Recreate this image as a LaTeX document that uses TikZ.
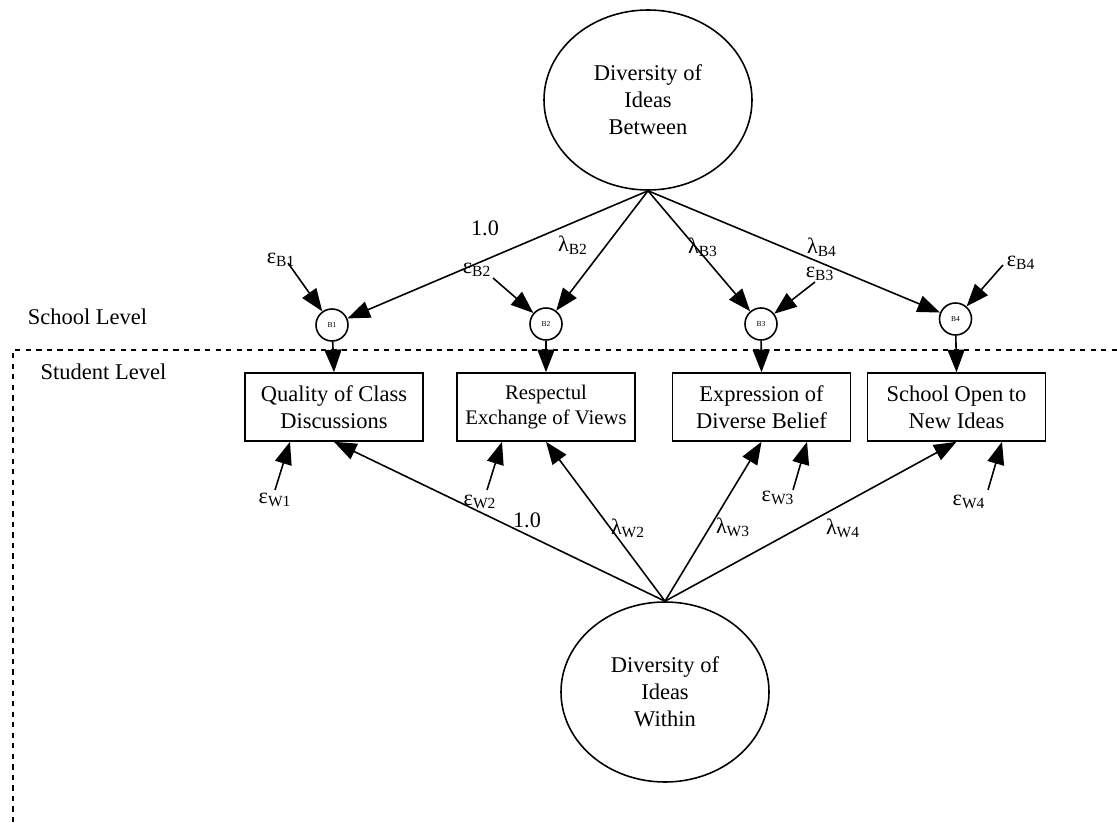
\documentclass[tikz,border=0pt]{standalone}
\usepackage{fontspec}
\setmainfont{Liberation Serif}
\usetikzlibrary{arrows.meta,positioning,shapes.geometric}

\begin{document}
\begin{tikzpicture}[
        latent/.style={ellipse, draw, minimum width=4.16cm, minimum height=3.6cm, align=center, font=\fontsize{12.8}{15.4}\selectfont},
        indicator/.style={rectangle, draw, minimum width=3.56cm, minimum height=1.36cm, inner xsep=1pt, align=center, font=\fontsize{12.8}{15.4}\selectfont},
        resid/.style={circle, draw, inner sep=0pt, minimum size=0.64cm, font=\fontsize{4.3}{5}\selectfont},
        coef/.style={inner sep=1pt, font=\fontsize{12.6}{14}\selectfont},
        level/.style={font=\fontsize{12.8}{15.4}\selectfont},
        ->, >={Triangle[length=0.45cm,width=0.34cm]}, line width=0.9pt
      ]
      \useasboundingbox (0,0) rectangle (22.34,16.44);
      % factors
      \node[latent] (btw) at (12.96,14.44) {Diversity of\\Ideas\\Between};
      \node[latent] (wth) at (13.3,2.6)    {Diversity of\\Ideas\\Within};
      % observed variables
      \node[indicator] (qual) at (6.68,8.3)  {Quality of Class\\Discussions};
      \node[indicator, font=\fontsize{11.8}{14.6}\selectfont] (resp) at (10.92,8.3) {Respectul\\Exchange of Views};
      \node[indicator] (expr) at (15.23,8.3) {Expression of\\Diverse Belief};
      \node[indicator] (open) at (19.13,8.3) {School Open to\\New Ideas};
      % between residuals
      \node[resid] (b1) at (6.64,9.94)  {B1};
      \node[resid] (b2) at (10.92,9.96) {B2};
      \node[resid] (b3) at (15.22,9.96) {B3};
      \node[resid] (b4) at (19.11,10.06) {B4};
      % levels
      \node[level] (school)  at (1.75,10.1) {School Level};
      \node[level] (student) at (2.07,9.0)  {Student Level};
      \draw[-, dashed, line width=0.7pt] (22.34,9.44) -| (0.26,0);
      % error terms
      \node[coef] (eB1) at (5.62,11.24) {ε\textsubscript{B1}};
      \node[coef] (eB2) at (9.54,11.04) {ε\textsubscript{B2}};
      \node[coef] (eB3) at (16.4,10.96) {ε\textsubscript{B3}};
      \node[coef] (eB4) at (20.42,11.18) {ε\textsubscript{B4}};
      \node[coef] (eW1) at (5.5,6.44)   {ε\textsubscript{W1}};
      \node[coef] (eW2) at (9.6,6.4)    {ε\textsubscript{W2}};
      \node[coef] (eW3) at (15.56,6.48) {ε\textsubscript{W3}};
      \node[coef] (eW4) at (19.38,6.4)  {ε\textsubscript{W4}};
      \coordinate (sB1) at (5.76,11.18);
      \coordinate (sB2) at (9.86,10.88);
      \coordinate (sB3) at (16.3,10.8);
      \coordinate (sB4) at (20.06,11.14);
      \coordinate (sW1) at (5.5,6.64);
      \coordinate (sW2) at (9.74,6.64);
      \coordinate (sW3) at (15.86,6.64);
      \coordinate (sW4) at (19.76,6.64);
      % loadings
      \node[coef] (lB1) at (9.7,11.88)  {1.0};
      \node[coef] (lB2) at (11.46,11.54) {λ\textsubscript{B2}};
      \node[coef] (lB3) at (14.06,11.5) {λ\textsubscript{B3}};
      \node[coef] (lB4) at (16.44,11.5) {λ\textsubscript{B4}};
      \node[coef] (lW1) at (10.54,6.04) {1.0};
      \node[coef] (lW2) at (12.56,5.88) {λ\textsubscript{W2}};
      \node[coef] (lW3) at (14.66,5.9)  {λ\textsubscript{W3}};
      \node[coef] (lW4) at (16.86,5.88) {λ\textsubscript{W4}};
      \draw (btw.south) -- (b1);
      \draw (btw.south) -- (b2);
      \draw (btw.south) -- (b3);
      \draw (btw.south) -- (b4);
      \draw (sB1) -- (b1);
      \draw (sB2) -- (b2);
      \draw (sB3) -- (b3);
      \draw (sB4) -- (b4);
      \draw (b1) -- (qual.north);
      \draw (b2) -- (resp.north);
      \draw (b3) -- (expr.north);
      \draw (b4) -- (open.north);
      \draw (wth.north) -- (qual.south);
      \draw (wth.north) -- (resp.south);
      \draw (wth.north) -- (expr.south);
      \draw (wth.north) -- (open.south);
      \draw (sW1) -- ([xshift=-0.88cm]qual.south);
      \draw (sW2) -- ([xshift=-0.88cm]resp.south);
      \draw (sW3) -- ([xshift=0.91cm]expr.south);
      \draw (sW4) -- ([xshift=0.91cm]open.south);
    \end{tikzpicture}
\end{document}
